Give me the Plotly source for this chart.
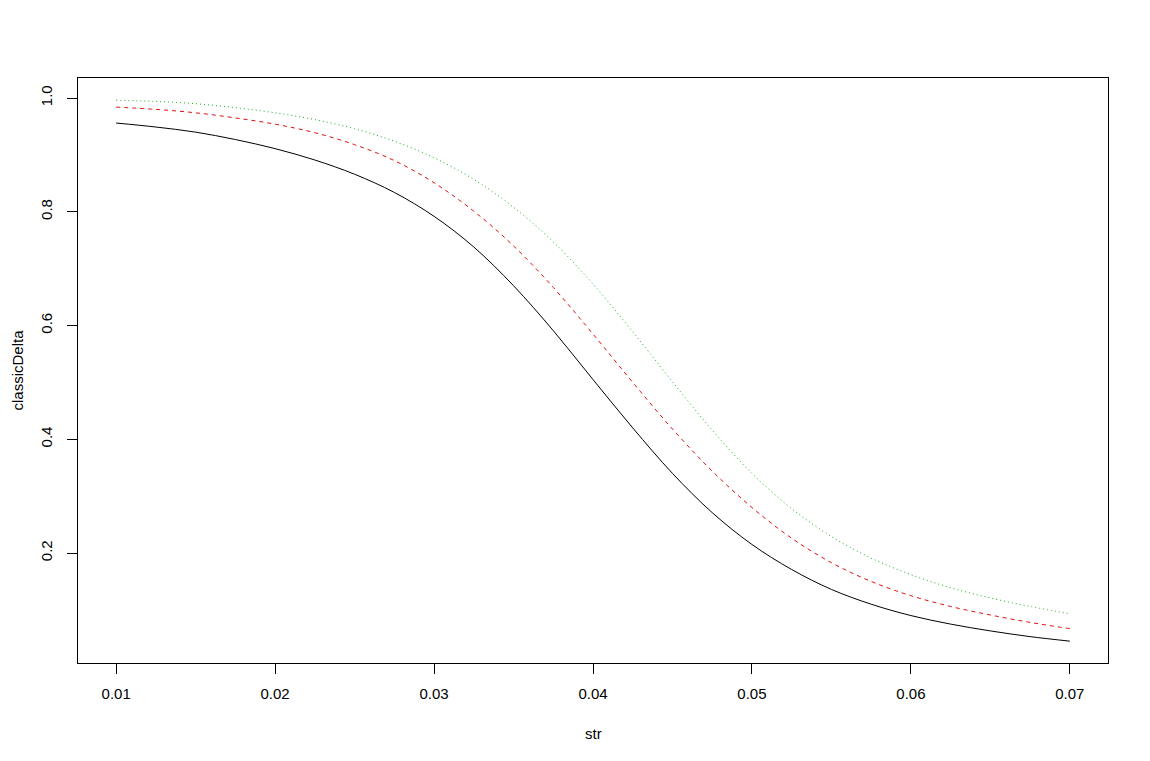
import plotly.graph_objects as go

strikes = [0.010, 0.0125, 0.015, 0.0175, 0.020, 0.0225, 0.025, 0.0275, 0.030, 0.0325,
           0.035, 0.0375, 0.040, 0.0425, 0.045, 0.0475, 0.050, 0.0525, 0.055, 0.0575,
           0.060, 0.0625, 0.065, 0.0675, 0.070]

delta_black = [0.956, 0.949, 0.940, 0.927, 0.911, 0.891, 0.866, 0.834, 0.792, 0.738,
               0.670, 0.591, 0.505, 0.420, 0.340, 0.271, 0.215, 0.171, 0.136, 0.110,
               0.090, 0.075, 0.063, 0.053, 0.045]

delta_red = [0.984, 0.980, 0.974, 0.965, 0.954, 0.939, 0.918, 0.890, 0.851, 0.801,
             0.740, 0.667, 0.585, 0.500, 0.418, 0.344, 0.280, 0.226, 0.183, 0.150,
             0.125, 0.106, 0.091, 0.078, 0.067]

delta_green = [0.996, 0.994, 0.990, 0.983, 0.974, 0.962, 0.946, 0.924, 0.895, 0.857,
               0.808, 0.747, 0.673, 0.589, 0.501, 0.416, 0.340, 0.278, 0.229, 0.191,
               0.162, 0.139, 0.121, 0.106, 0.093]

x_ticks = [0.01, 0.02, 0.03, 0.04, 0.05, 0.06, 0.07]
x_tick_labels = ["0.01", "0.02", "0.03", "0.04", "0.05", "0.06", "0.07"]
y_ticks = [0.2, 0.4, 0.6, 0.8, 1.0]
y_tick_labels = ["0.2", "0.4", "0.6", "0.8", "1.0"]

fig = go.Figure()
fig.add_trace(go.Scatter(x=strikes, y=delta_black, mode="lines",
                         line=dict(color="black", width=1, shape="spline", smoothing=1)))
fig.add_trace(go.Scatter(x=strikes, y=delta_red, mode="lines",
                         line=dict(color="#e01010", width=1, dash="4px,4px",
                                   shape="spline", smoothing=1)))
fig.add_trace(go.Scatter(x=strikes, y=delta_green, mode="lines",
                         line=dict(color="#18b018", width=1, dash="1px,3px",
                                   shape="spline", smoothing=1)))

font = dict(family="Liberation Sans, Arial, sans-serif", size=15, color="black")

# page body has an 8px offset; margins chosen so the plot box spans x 78-1108, y 78-663
fig.update_layout(
    width=1134, height=745,
    margin=dict(l=70, r=34, t=70, b=90),
    paper_bgcolor="white", plot_bgcolor="white",
    showlegend=False,
    font=font,
    xaxis=dict(range=[0.0076, 0.0724], tickvals=x_ticks, ticktext=x_tick_labels,
               ticks="outside", ticklen=10, tickcolor="black", showgrid=False,
               zeroline=False, showline=True, linecolor="black", linewidth=1, mirror=True,
               ticklabelstandoff=7, tickfont=font),
    yaxis=dict(range=[0.0066, 1.0352], tickvals=y_ticks, ticktext=y_tick_labels,
               ticks="outside", ticklen=10, tickcolor="black", showgrid=False,
               zeroline=False, showline=True, linecolor="black", linewidth=1, mirror=True,
               tickangle=-90, ticklabelstandoff=9, tickfont=font),
    annotations=[
        dict(text="str", xref="paper", yref="paper", x=0.5, y=0,
             xanchor="center", yanchor="middle", yshift=-70, showarrow=False, font=font),
        dict(text="classicDelta", xref="paper", yref="paper", x=0, y=0.5,
             xanchor="center", yanchor="middle", xshift=-61, textangle=-90,
             showarrow=False, font=font),
    ],
)

fig.write_html("out.html")
